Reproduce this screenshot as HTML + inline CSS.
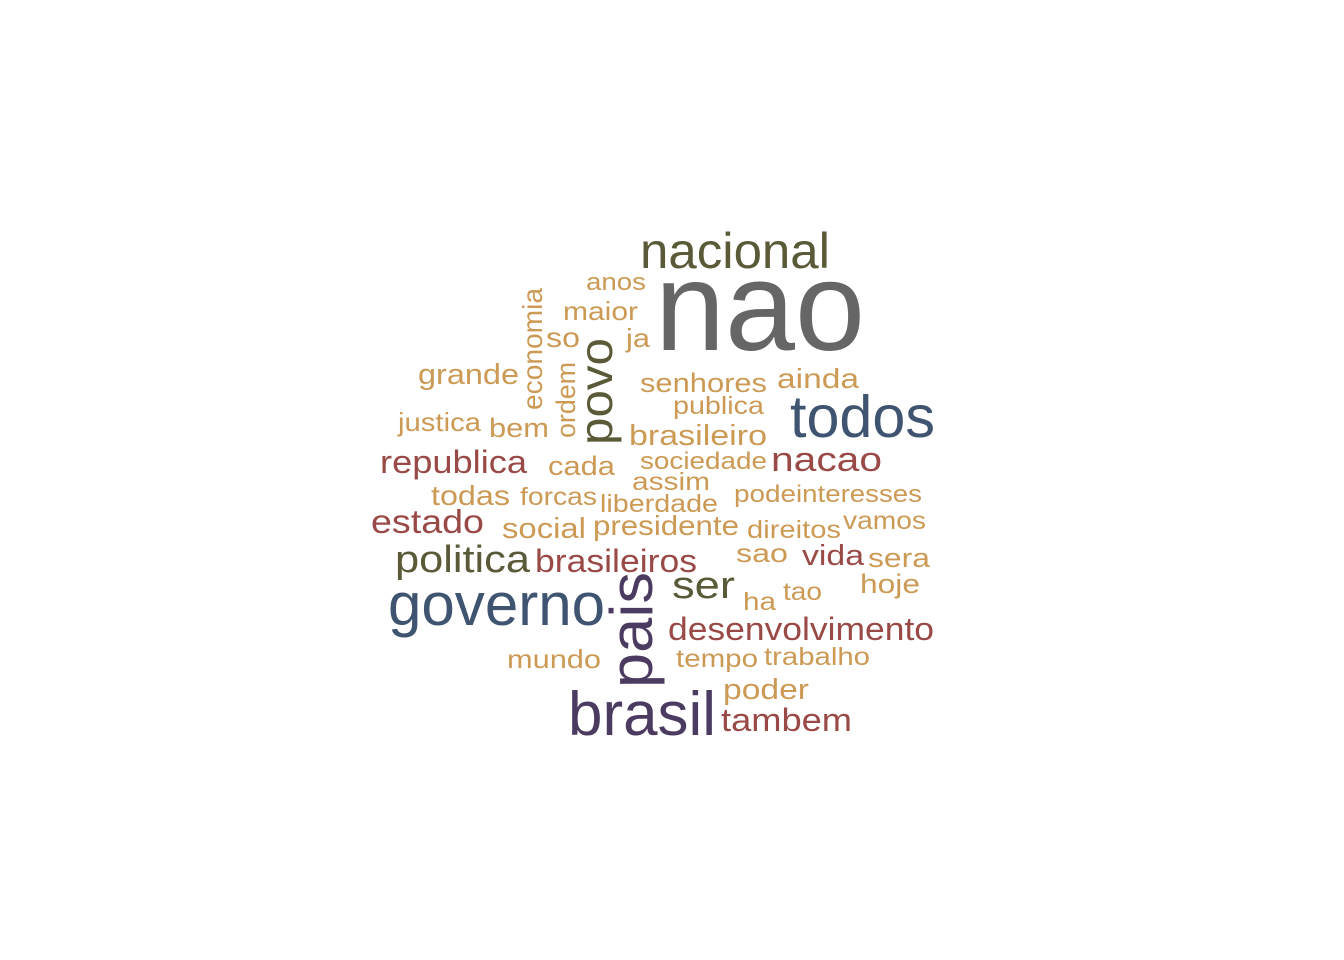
<!DOCTYPE html>
<html><head><meta charset="utf-8"><style>
html,body{margin:0;padding:0;background:#fff;}
svg{display:block;}
text{font-family:"Liberation Sans",Arial,sans-serif;}
</style></head><body>
<svg id="cloud" width="1344" height="960" viewBox="0 0 1344 960"></svg>
<script>
const words = ["nao","nacional","anos","maior","so","ja","grande","senhores","ainda","publica","justica","bem","todos","brasileiro","republica","cada","sociedade","nacao","assim","todas","forcas","liberdade","pode","interesses","estado","social","presidente","direitos","vamos","politica","brasileiros","sao","vida","sera","ser","hoje","ha","tao","governo","desenvolvimento","mundo","tempo","trabalho","poder","brasil","tambem","economia","ordem","povo","pais"];
const sizes = [126,50,24,26,28,26,29,27,28,25,26,27,59,29,32,27,24,34,25,28,25,25,24,24,33,29,28,25,25,38,32,26,29,27,38,27,25,25,60,32,26,25,25,29,62,32,28,27,46,60];
const groups = ["g","o","t","t","t","t","t","t","t","t","t","t","b","t","r","t","t","r","t","t","t","t","t","t","r","t","t","t","t","o","r","t","r","t","o","t","t","t","b","r","t","t","t","t","p","r","t","t","o","p"];
// layout: x, y (baseline), length, rotated
const layout = [
[655,350,210,0],[640,268,190,0],[586,290,60,0],[563,320,75,0],[546,347,34,0],[626,347,24,0],[418,384,101,0],[640,392,127,0],[777,388,82,0],[673,414,91,0],[398,431,83,0],[489,437,60,0],[790,437,145,0],[629,445,138,0],[380,473,147,0],[548,475,67,0],[640,469,127,0],[771,471,111,0],[632,490,78,0],[431,505,79,0],[520,505,77,0],[600,512,118,0],[734,502,62,0],[796,502,126,0],[371,533,113,0],[502,538,84,0],[593,535,146,0],[747,538,94,0],[843,529,83,0],[395,572,135,0],[535,572,162,0],[736,562,52,0],[802,565,62,0],[868,567,62,0],[672,598,63,0],[860,593,60,0],[743,610,33,0],[783,600,39,0],[388,625,217,0],[668,640,266,0],[507,668,94,0],[676,667,82,0],[764,665,106,0],[723,699,86,0],[568,735,148,0],[721,731,131,0],
[542,410,122,1],[575,438,76,1],[612,445,107,1],[652,688,116,1]];
const colors = {g:"#666666",o:"#5a5a38",t:"#cc9a55",b:"#3f5470",r:"#9a4a46",p:"#4b3b60"};
const svg = document.getElementById('cloud');
const NS = "http://www.w3.org/2000/svg";
words.forEach((w,i)=>{
  const [x,y,len,rot] = layout[i];
  const t = document.createElementNS(NS,'text');
  t.setAttribute('x',x);
  t.setAttribute('y',y);
  t.setAttribute('font-size',sizes[i]);
  t.setAttribute('fill',colors[groups[i]]);
  t.setAttribute('textLength',len);
  t.setAttribute('lengthAdjust','spacingAndGlyphs');
  if(rot) t.setAttribute('transform',`rotate(-90 ${x} ${y})`);
  t.textContent = w;
  
  
  svg.appendChild(t);
});
</script>
</body></html>
